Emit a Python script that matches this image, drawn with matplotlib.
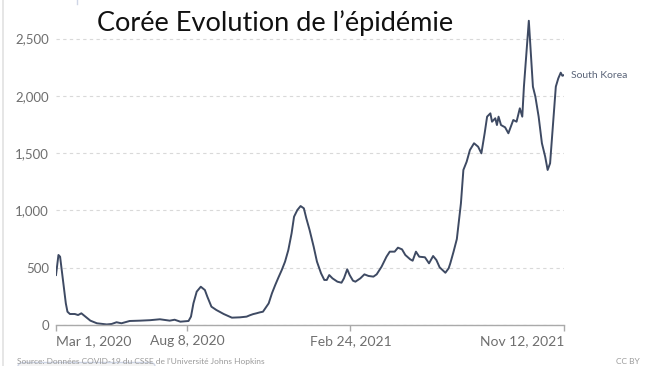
import matplotlib
matplotlib.use("Agg")
import matplotlib.pyplot as plt
from matplotlib.lines import Line2D
from matplotlib.patches import FancyBboxPatch
from matplotlib.ticker import FuncFormatter
import pandas as pd

# Daily new confirmed cases (7-day average), South Korea
start_date = "2020-03-01"
days = [0, 3, 5, 8, 10, 12, 14, 17, 23, 27, 31, 35, 42, 50, 62, 68, 74, 80, 90, 103,
        115, 127, 139, 145, 152, 162, 165, 168, 172, 177, 182, 185, 190, 196, 205, 215,
        225, 233, 237, 241, 245, 249, 253, 260, 264, 268, 272, 276, 280, 284, 288, 291,
        295, 299, 303, 306, 310, 315, 319, 324, 328, 331, 334, 338, 344, 349, 352, 356,
        359, 363, 366, 372, 377, 382, 388, 392, 398, 404, 408, 414, 418, 423, 427, 433,
        436, 440, 444, 451, 456, 461, 465, 469, 476, 480, 482, 486, 490, 495, 498, 502,
        506, 511, 516, 520, 524, 527, 531, 533, 537, 539, 541, 544, 549, 553, 559, 563,
        567, 570, 572, 578, 583, 586, 590, 594, 598, 601, 604, 608, 611, 614, 617, 619,
        621]
cases = [436, 611, 596, 421, 305, 189, 116, 96, 96, 87, 102, 79, 38, 15, 5, 9, 24, 15, 35, 38,
         42, 50, 38, 46, 29, 35, 73, 189, 291, 334, 305, 247, 160, 131, 96, 64,
         67, 73, 85, 95, 102, 110, 116, 189, 277, 349, 416, 480, 553, 654, 800, 945,
         1003, 1038, 1018, 931, 829, 683, 553, 451, 393, 393, 436, 407, 378, 369, 407, 486,
         436, 387, 378, 407, 442, 428, 422, 442, 509, 596, 640, 640, 675, 660, 611, 573,
         561, 640, 596, 591, 538, 602, 567, 503, 456, 495, 538, 640, 750, 1062, 1353, 1425,
         1527, 1586, 1556, 1498, 1673, 1818, 1847, 1774, 1804, 1745, 1818, 1745, 1725, 1673, 1789, 1774,
         1891, 1818, 2080, 2655, 2080, 1993, 1818, 1586, 1469, 1353, 1411, 1789, 2080, 2152, 2202, 2175,
         2181]
country = "South Korea"

x_ticks = ["2020-03-01", "2020-08-08", "2021-02-24", "2021-11-12"]
x_labels = ["Mar 1, 2020", "Aug 8, 2020", "Feb 24, 2021", "Nov 12, 2021"]
y_ticks = [0, 500, 1000, 1500, 2000, 2500]

dates = pd.Timestamp(start_date) + pd.to_timedelta(days, unit="D")

W, H = 650, 366
fig = plt.figure(figsize=(6.5, 3.66), dpi=100)
fig.patch.set_facecolor("white")

# axes placed in pixel terms of the reference
left, right, bottom_px, top_px = 56, 564, 325, 15.6
ax = fig.add_axes([left / W, (H - bottom_px) / H, (right - left) / W, (bottom_px - top_px) / H])

line_color = "#3e4a63"
ax.plot(dates, cases, color=line_color, lw=1.4, solid_joinstyle="round")

ax.set_xlim(pd.Timestamp(x_ticks[0]), pd.Timestamp(x_ticks[-1]))
ax.set_ylim(0, 2700)

# y axis: dashed grid, no spine
ax.set_yticks(y_ticks)
ax.yaxis.set_major_formatter(FuncFormatter(lambda v, p: f"{int(v):,}"))
ax.grid(axis="y", color="#d9d9d9", linestyle=(0, (3, 3)), lw=0.8)
ax.set_axisbelow(True)
for s in ["top", "right", "left"]:
    ax.spines[s].set_visible(False)
ax.spines["bottom"].set_color("#aaaaaa")
ax.spines["bottom"].set_linewidth(1.0)
ax.tick_params(axis="y", length=0, pad=5, labelsize=9.5, labelcolor="#6e6e6e")
for t in ax.get_yticklabels():
    t.set_fontfamily("Lato")

# x axis: first label left aligned, last right aligned
ax.set_xticks([pd.Timestamp(d) for d in x_ticks])
ax.set_xticklabels(x_labels)
ax.tick_params(axis="x", length=4, width=1, color="#aaaaaa", pad=3,
               labelsize=10, labelcolor="#6e6e6e")
for i, t in enumerate(ax.get_xticklabels()):
    t.set_fontfamily("Lato")
    if i == 0:
        t.set_ha("left")
    elif i == len(x_labels) - 1:
        t.set_ha("right")

# series label at line end
ax.annotate(country, (dates[-1], cases[-1]), xytext=(5, 0), textcoords="offset points",
            va="center", ha="left", fontsize=7.5, color="#5a6478",
            family="Lato", annotation_clip=False)

# title
fig.text(97 / W, (H - 31) / H, "Corée Evolution de l’épidémie", fontsize=19.5,
         family="Lato", color="#111111", va="baseline", ha="left")

# leftover bits of the screenshot frame
fig.add_artist(Line2D([2.5 / W, 2.5 / W], [0, 1], color="#e2e2e2", lw=1.2))
fig.add_artist(FancyBboxPatch((18 / W, -12 / H), 137 / W, 15.5 / H,
                              boxstyle="round,pad=0,rounding_size=0.01",
                              transform=fig.transFigure, fc="#f4f4f4", ec="#cfd6e6", lw=1))
fig.add_artist(Line2D([77 / W, 77 / W], [1, 1 - 3.5 / H], color="#cfd6e6", lw=1))
fig.text(17 / W, (H - 365) / H,
         "Source: Données COVID-19 du CSSE de l'Université Johns Hopkins",
         fontsize=6, family="Lato", color="#9a9a9a", va="bottom", ha="left")
fig.text(640 / W, (H - 365) / H, "CC BY", fontsize=6, family="Lato",
         color="#9a9a9a", va="bottom", ha="right")

fig.savefig("out.png", dpi=100, facecolor="white")
